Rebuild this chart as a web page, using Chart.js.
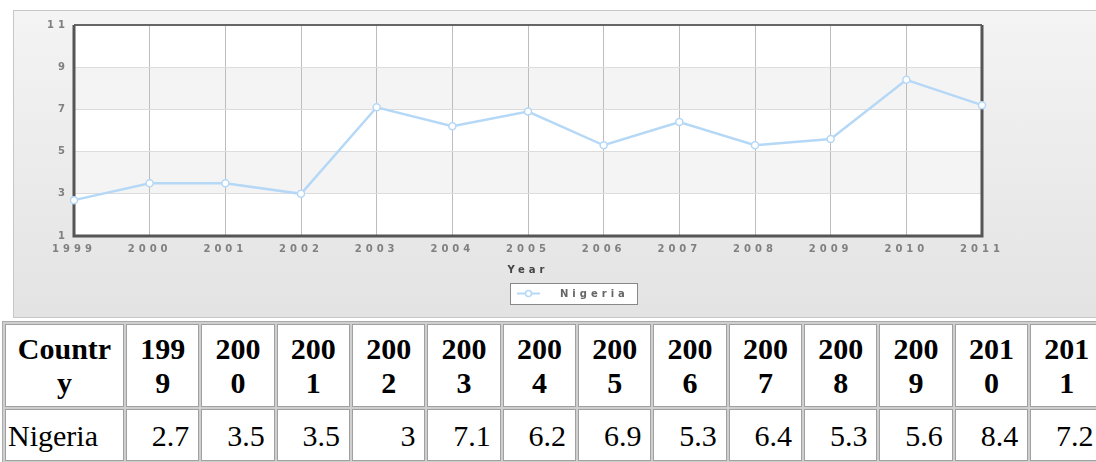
<!DOCTYPE html>
<html>
<head>
<meta charset="utf-8">
<script src="https://cdn.jsdelivr.net/npm/chart.js@4.4.0/dist/chart.umd.min.js"></script>
<style>
html, body { margin:0; padding:0; background:#fff; width:1096px; height:462px; overflow:hidden; }
#panel { position:absolute; left:13px; top:10px; width:1090px; height:306px; border:1px solid #c6c6c6; border-right:none;
  background:linear-gradient(#f4f4f4, #e3e3e3); }
#chart { position:absolute; left:13px; top:10px; }
table { position:absolute; left:2px; top:321px; width:1104.55px; table-layout:fixed; border-collapse:separate; border-spacing:2px;
  border:1px solid #aaa; background:#cfcfcf; font-family:"Liberation Serif", "Times New Roman", serif; font-size:30px; color:#000; }
th, td { background:#fff; border:1px solid #a0a0a0; }
th { padding:7px 7px 6px; text-align:center; word-break:break-all; font-weight:bold; }
td { padding:9px 9px 7px 2px; text-align:right; }
td.name { text-align:left; }
</style>
</head>
<body>
<div id="panel"></div>
<canvas id="chart" width="1083" height="308"></canvas>
<table id="tbl"><colgroup id="cols"></colgroup><thead><tr id="head"></tr></thead><tbody><tr id="row"></tr></tbody></table>
<script>
const years = ['1999', '2000', '2001', '2002', '2003', '2004', '2005', '2006', '2007', '2008', '2009', '2010', '2011'];
const nigeria = [2.7, 3.5, 3.5, 3, 7.1, 6.2, 6.9, 5.3, 6.4, 5.3, 5.6, 8.4, 7.2];
const seriesName = 'Nigeria';
const xTitle = 'Year';
const firstHeader = 'Country';
const yMin = 1, yMax = 11, yStep = 2;
const grayBands = [[3, 5], [7, 9]];

const lineBlue = 'rgb(181, 216, 246)';
const tickFont = { family: 'DejaVu Sans', size: 10, weight: 'bold' };

// build the table below the chart
const cols = document.getElementById('cols');
const head = document.getElementById('head');
const row = document.getElementById('row');
const addCol = w => { const c = document.createElement('col'); c.style.width = w; cols.appendChild(c); };
addCol('119px');
head.innerHTML = '<th>' + firstHeader + '</th>';
row.innerHTML = '<td class="name">' + seriesName + '</td>';
years.forEach((y, i) => {
    addCol('73.35px');
    head.innerHTML += '<th>' + y + '</th>';
    row.innerHTML += '<td>' + nigeria[i] + '</td>';
});

// plot background with alternating bands, sets letter spacing for the text
const bandsPlugin = {
    id: 'bands',
    beforeDraw(chart) {
        const { ctx, chartArea: a, scales: { y } } = chart;
        ctx.letterSpacing = '4px';
        ctx.save();
        ctx.fillStyle = '#fff';
        ctx.fillRect(a.left, a.top, a.right - a.left, a.bottom - a.top);
        ctx.fillStyle = '#f4f4f4';
        grayBands.forEach(b => {
            const top = y.getPixelForValue(b[1]);
            const bot = y.getPixelForValue(b[0]);
            ctx.fillRect(a.left, top, a.right - a.left, bot - top);
        });
        ctx.restore();
    }
};

// dark frame around the plot
const framePlugin = {
    id: 'frame',
    beforeDatasetsDraw(chart) {
        const { ctx, chartArea: a } = chart;
        ctx.save();
        ctx.strokeStyle = '#666';
        ctx.lineWidth = 2;
        ctx.beginPath();
        ctx.moveTo(a.left, a.top); ctx.lineTo(a.right, a.top);
        ctx.stroke();
        ctx.strokeStyle = '#555';
        ctx.lineWidth = 3;
        ctx.beginPath();
        ctx.moveTo(a.left, a.top); ctx.lineTo(a.left, a.bottom); ctx.lineTo(a.right, a.bottom); ctx.lineTo(a.right, a.top);
        ctx.stroke();
        ctx.restore();
    }
};

// boxed legend under the axis title
const legendBox = {
    id: 'legendBox',
    afterDraw(chart) {
        const ctx = chart.ctx;
        const x = 497, y = 273, w = 127, h = 21, cy = y + h / 2;
        ctx.save();
        ctx.fillStyle = '#fff';
        ctx.fillRect(x, y, w, h);
        ctx.strokeStyle = '#888';
        ctx.lineWidth = 1;
        ctx.strokeRect(x + 0.5, y + 0.5, w, h);
        ctx.strokeStyle = lineBlue;
        ctx.lineWidth = 2;
        ctx.beginPath(); ctx.moveTo(x + 7, cy); ctx.lineTo(x + 30, cy); ctx.stroke();
        ctx.fillStyle = '#fff';
        ctx.lineWidth = 1.5;
        ctx.beginPath(); ctx.arc(x + 18.5, cy, 3, 0, Math.PI * 2); ctx.fill(); ctx.stroke();
        ctx.fillStyle = '#666';
        ctx.font = 'bold 10px "DejaVu Sans"';
        ctx.textBaseline = 'middle';
        ctx.fillText(seriesName, x + 50, cy + 1);
        ctx.restore();
        ctx.letterSpacing = '0px';
    }
};

const ctx = document.getElementById('chart').getContext('2d');
new Chart(ctx, {
    type: 'line',
    data: {
        labels: years,
        datasets: [{
            label: seriesName,
            data: nigeria,
            borderColor: lineBlue,
            backgroundColor: '#fff',
            borderWidth: 2.5,
            pointRadius: 3.5,
            pointBorderWidth: 1.5,
            pointBackgroundColor: '#fff',
            pointBorderColor: lineBlue,
            lineTension: 0,
            fill: false,
            clip: false
        }]
    },
    options: {
        responsive: false,
        animation: false,
        events: [],
        layout: { padding: { left: 0, right: 114, top: 15, bottom: 0 } },
        plugins: { legend: { display: false }, tooltip: { enabled: false } },
        scales: {
            x: {
                offset: false,
                grid: { color: '#bdbdbd', lineWidth: 1, drawTicks: false },
                border: { display: false },
                ticks: { font: tickFont, color: '#808080', padding: 7, autoSkip: false, maxRotation: 0 },
                title: { display: true, text: xTitle, color: '#444', font: { family: 'DejaVu Sans', size: 10, weight: 'bold' }, padding: { top: 0, bottom: 42 } },
                afterFit: s => { s.height = 82; }
            },
            y: {
                min: yMin,
                max: yMax,
                grid: { color: '#dcdcdc', lineWidth: 1, drawTicks: false },
                border: { display: false },
                ticks: { stepSize: yStep, font: tickFont, color: '#808080', padding: 5 },
                afterFit: s => { s.width = 61; }
            }
        }
    },
    plugins: [bandsPlugin, framePlugin, legendBox]
});
</script>
</body>
</html>
